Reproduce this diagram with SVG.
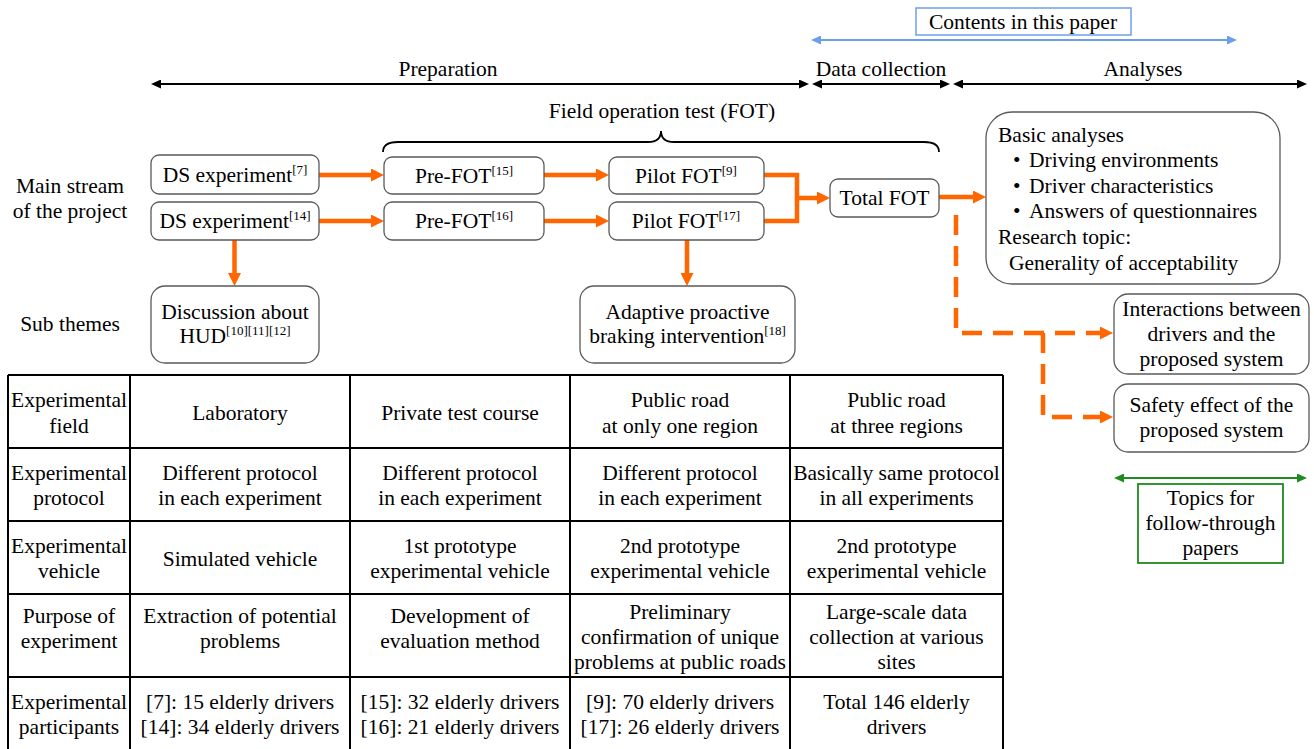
<svg xmlns="http://www.w3.org/2000/svg" width="1314" height="749" viewBox="0 0 1314 749">
<style>
text{font-family:"Liberation Serif","Times New Roman",serif;font-size:21.5px;fill:#000}
.m{text-anchor:middle}
.sup{font-size:13px}
.box{fill:#fff;stroke:#5a5a5a;stroke-width:1.3}
.tb{fill:none;stroke:#000;stroke-width:2}
.blk{stroke:#000;stroke-width:1.8;fill:none}
.or{stroke:#FF6600;stroke-width:4.5;fill:none;stroke-linejoin:miter}
.dash{stroke:#FF6600;stroke-width:4.5;fill:none;stroke-dasharray:20 11}
</style>
<defs>
<marker id="ao" viewBox="0 0 13 13" refX="0" refY="6.5" markerWidth="13" markerHeight="13" markerUnits="userSpaceOnUse" orient="auto-start-reverse"><path d="M0,0L13,6.5L0,13z" fill="#FF6600"/></marker>
<marker id="ak" viewBox="0 0 10 9" refX="0" refY="4.5" markerWidth="10" markerHeight="9" markerUnits="userSpaceOnUse" orient="auto-start-reverse"><path d="M0,0L10,4.5L0,9z" fill="#000"/></marker>
<marker id="ab" viewBox="0 0 10 9" refX="0" refY="4.5" markerWidth="10" markerHeight="9" markerUnits="userSpaceOnUse" orient="auto-start-reverse"><path d="M0,0L10,4.5L0,9z" fill="#6D9EEB"/></marker>
<marker id="ag" viewBox="0 0 10 9" refX="0" refY="4.5" markerWidth="10" markerHeight="9" markerUnits="userSpaceOnUse" orient="auto-start-reverse"><path d="M0,0L10,4.5L0,9z" fill="#1E8C1E"/></marker>
</defs>

<g id="phases">
<rect x="916" y="8" width="215" height="27" fill="#fff" stroke="#6D9EEB" stroke-width="1.5"/>
<text class="m" x="1023" y="29">Contents in this paper</text>
<line x1="821" y1="40" x2="1227" y2="40" stroke="#6D9EEB" stroke-width="1.8" marker-start="url(#ab)" marker-end="url(#ab)"/>
<text class="m" x="448" y="76">Preparation</text>
<text class="m" x="881" y="76">Data collection</text>
<text class="m" x="1143" y="76">Analyses</text>
<line class="blk" x1="161" y1="84" x2="799" y2="84" marker-start="url(#ak)" marker-end="url(#ak)"/>
<line class="blk" x1="822" y1="84" x2="940" y2="84" marker-start="url(#ak)" marker-end="url(#ak)"/>
<line class="blk" x1="963" y1="84" x2="1297" y2="84" marker-start="url(#ak)" marker-end="url(#ak)"/>
<text class="m" x="662" y="118">Field operation test (FOT)</text>
<path class="blk" d="M383,152 Q383,142 398,142 H648 Q661,142 661,131 Q661,142 674,142 H924 Q939,142 939,152"/>
</g>

<g id="labels">
<text class="m" x="70" y="193">Main stream</text>
<text class="m" x="70" y="218">of the project</text>
<text class="m" x="70" y="331">Sub themes</text>
</g>

<g id="connectors">
<path class="or" d="M319,175H371" marker-end="url(#ao)"/>
<path class="or" d="M319,221H371" marker-end="url(#ao)"/>
<path class="or" d="M544,175H596" marker-end="url(#ao)"/>
<path class="or" d="M544,221H596" marker-end="url(#ao)"/>
<path class="or" d="M764,175H797V221H764"/>
<path class="or" d="M797,198H817" marker-end="url(#ao)"/>
<path class="or" d="M939,197H973" marker-end="url(#ao)"/>
<path class="or" d="M234.5,240V273" marker-end="url(#ao)"/>
<path class="or" d="M687,240V273" marker-end="url(#ao)"/>
<path class="dash" d="M956,215V333H1100" marker-end="url(#ao)"/>
<path class="dash" d="M1043,333V417H1100" marker-end="url(#ao)"/>
</g>

<g id="ds7"><rect class="box" x="151" y="155" width="168" height="39" rx="8"/><text class="m" x="235" y="182">DS experiment<tspan class="sup" dy="-8">[7]</tspan></text></g>
<g id="ds14"><rect class="box" x="151" y="202" width="168" height="38" rx="8"/><text class="m" x="235" y="228">DS experiment<tspan class="sup" dy="-8">[14]</tspan></text></g>
<g id="prefot15"><rect class="box" x="384" y="157" width="160" height="37" rx="8"/><text class="m" x="464" y="183">Pre-FOT<tspan class="sup" dy="-8">[15]</tspan></text></g>
<g id="prefot16"><rect class="box" x="384" y="202" width="160" height="38" rx="8"/><text class="m" x="464" y="228">Pre-FOT<tspan class="sup" dy="-8">[16]</tspan></text></g>
<g id="pilot9"><rect class="box" x="609" y="157" width="155" height="37" rx="8"/><text class="m" x="686" y="183">Pilot FOT<tspan class="sup" dy="-8">[9]</tspan></text></g>
<g id="pilot17"><rect class="box" x="609" y="202" width="155" height="38" rx="8"/><text class="m" x="686" y="228">Pilot FOT<tspan class="sup" dy="-8">[17]</tspan></text></g>
<g id="totalfot"><rect class="box" x="830" y="179" width="109" height="38" rx="8"/><text class="m" x="884.5" y="205">Total FOT</text></g>
<g id="basic">
<rect class="box" x="986" y="112" width="294" height="172" rx="26"/>
<text x="998" y="142">Basic analyses</text>
<text x="1013" y="167">•<tspan x="1029">Driving environments</tspan></text>
<text x="1013" y="193">•<tspan x="1029">Driver characteristics</tspan></text>
<text x="1013" y="218">•<tspan x="1029">Answers of questionnaires</tspan></text>
<text x="998" y="244">Research topic:</text>
<text x="1009" y="270">Generality of acceptability</text>
</g>
<g id="hud"><rect class="box" x="151" y="286" width="168" height="77" rx="14"/><text class="m" x="235" y="319">Discussion about</text><text class="m" x="235" y="343">HUD<tspan class="sup" dy="-8">[10][11][12]</tspan></text></g>
<g id="braking"><rect class="box" x="580" y="286" width="215" height="77" rx="14"/><text class="m" x="687.5" y="319">Adaptive proactive</text><text class="m" x="687.5" y="343">braking intervention<tspan class="sup" dy="-8">[18]</tspan></text></g>
<g id="interactions"><rect class="box" x="1114" y="294" width="195" height="80" rx="14"/><text class="m" x="1211.5" y="316">Interactions between</text><text class="m" x="1211.5" y="341">drivers and the</text><text class="m" x="1211.5" y="366">proposed system</text></g>
<g id="safety"><rect class="box" x="1114" y="384" width="195" height="68" rx="14"/><text class="m" x="1211.5" y="412">Safety effect of the</text><text class="m" x="1211.5" y="437">proposed system</text></g>
<g id="followup">
<line x1="1124" y1="478" x2="1297" y2="478" stroke="#1E8C1E" stroke-width="1.8" marker-start="url(#ag)" marker-end="url(#ag)"/>
<rect x="1138" y="484" width="145" height="79" fill="#fff" stroke="#1E8C1E" stroke-width="1.8"/>
<text class="m" x="1210.5" y="505">Topics for</text>
<text class="m" x="1210.5" y="530">follow-through</text>
<text class="m" x="1210.5" y="555">papers</text>
</g>

<g id="table">
<path class="tb" d="M8,375H1003M8,448H1003M8,521H1003M8,594H1003M8,677H1003M8,375V752M130,375V752M350,375V752M570,375V752M790,375V752M1003,375V752"/>
<text class="m" x="69" y="407">Experimental</text><text class="m" x="69" y="433">field</text>
<text class="m" x="240" y="420">Laboratory</text>
<text class="m" x="460" y="420">Private test course</text>
<text class="m" x="680" y="407">Public road</text><text class="m" x="680" y="433">at only one region</text>
<text class="m" x="896.5" y="407">Public road</text><text class="m" x="896.5" y="433">at three regions</text>

<text class="m" x="69" y="480">Experimental</text><text class="m" x="69" y="505">protocol</text>
<text class="m" x="240" y="480">Different protocol</text><text class="m" x="240" y="505">in each experiment</text>
<text class="m" x="460" y="480">Different protocol</text><text class="m" x="460" y="505">in each experiment</text>
<text class="m" x="680" y="480">Different protocol</text><text class="m" x="680" y="505">in each experiment</text>
<text class="m" x="896.5" y="480">Basically same protocol</text><text class="m" x="896.5" y="505">in all experiments</text>

<text class="m" x="69" y="553">Experimental</text><text class="m" x="69" y="578">vehicle</text>
<text class="m" x="240" y="566">Simulated vehicle</text>
<text class="m" x="460" y="553">1st prototype</text><text class="m" x="460" y="578">experimental vehicle</text>
<text class="m" x="680" y="553">2nd prototype</text><text class="m" x="680" y="578">experimental vehicle</text>
<text class="m" x="896.5" y="553">2nd prototype</text><text class="m" x="896.5" y="578">experimental vehicle</text>

<text class="m" x="69" y="623">Purpose of</text><text class="m" x="69" y="648">experiment</text>
<text class="m" x="240" y="623">Extraction of potential</text><text class="m" x="240" y="648">problems</text>
<text class="m" x="460" y="623">Development of</text><text class="m" x="460" y="648">evaluation method</text>
<text class="m" x="680" y="619">Preliminary</text><text class="m" x="680" y="644">confirmation of unique</text><text class="m" x="680" y="669">problems at public roads</text>
<text class="m" x="896.5" y="619">Large-scale data</text><text class="m" x="896.5" y="644">collection at various</text><text class="m" x="896.5" y="669">sites</text>

<text class="m" x="69" y="709">Experimental</text><text class="m" x="69" y="734">participants</text>
<text class="m" x="240" y="709">[7]: 15 elderly drivers</text><text class="m" x="240" y="734">[14]: 34 elderly drivers</text>
<text class="m" x="460" y="709">[15]: 32 elderly drivers</text><text class="m" x="460" y="734">[16]: 21 elderly drivers</text>
<text class="m" x="680" y="709">[9]: 70 elderly drivers</text><text class="m" x="680" y="734">[17]: 26 elderly drivers</text>
<text class="m" x="896.5" y="709">Total 146 elderly</text><text class="m" x="896.5" y="734">drivers</text>
</g>
</svg>
